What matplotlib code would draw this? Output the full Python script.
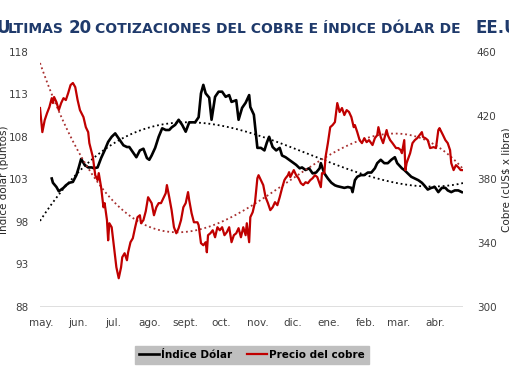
import numpy as np
import pandas as pd
import matplotlib
matplotlib.use("Agg")
import matplotlib.pyplot as plt

# Índice dólar (días desde 1-may-2022, puntos)
dolar_days = [9, 10, 13, 15, 19, 21, 24, 27, 30, 32, 34, 37, 40, 43, 45, 48, 51, 54, 57, 60,
              63, 67, 70, 73, 75, 78, 81, 84, 87, 90, 92, 94, 97, 100, 103, 106, 109, 111, 114, 117,
              120, 123, 126, 128, 131, 134, 136, 138, 140, 143, 145, 148, 151, 154, 157, 160, 162, 166, 168, 171,
              174, 177, 178, 181, 184, 187, 190, 192, 194, 197, 200, 203, 205, 208, 211, 214, 217, 220, 222, 225,
              228, 231, 234, 237, 238, 241, 244, 247, 250, 252, 255, 258, 261, 264, 265, 267, 269, 272, 275, 278,
              281, 284, 286, 289, 292, 295, 298, 301, 303, 307, 309, 312, 315, 318, 321, 324, 326, 329, 332, 335,
              338, 341, 344, 346, 349, 352, 355, 358]
dolar_vals = [103.1, 102.6, 102.1, 101.6, 102.0, 102.3, 102.6, 102.7, 103.5, 104.4, 105.4, 104.7, 104.4, 104.4, 104.3, 104.4, 105.5, 106.4, 107.4, 108.0,
              108.4, 107.6, 107.0, 106.8, 106.8, 106.2, 105.6, 106.4, 106.6, 105.5, 105.3, 105.8, 106.7, 108.0, 109.0, 108.8, 108.8, 109.1, 109.4, 110.0,
              109.4, 108.6, 109.7, 109.7, 109.7, 110.3, 113.1, 114.1, 113.1, 112.6, 110.0, 112.7, 113.3, 113.3, 112.7, 112.9, 112.1, 112.3, 110.0, 111.4,
              112.0, 112.9, 111.5, 110.6, 106.7, 106.7, 106.4, 107.3, 108.0, 106.8, 106.4, 106.7, 105.8, 105.6, 105.3, 105.0, 104.7, 104.3, 104.4, 104.1,
              104.3, 103.7, 103.8, 104.3, 104.9, 103.7, 103.1, 102.6, 102.3, 102.2, 102.1, 102.0, 102.1, 102.0, 101.5, 102.9, 103.3, 103.5, 103.5, 103.8,
              103.8, 104.3, 104.9, 105.3, 104.9, 104.9, 105.3, 105.6, 104.9, 104.3, 104.1, 103.7, 103.3, 103.1, 102.9, 102.6, 102.3, 101.8, 102.0, 102.1,
              101.5, 102.0, 102.0, 101.7, 101.5, 101.7, 101.7, 101.5]

# Precio del cobre (días desde 1-may-2022, cUS$ x libra)
cobre_days = [-1, 1, 3, 5, 7, 9, 10, 11, 13, 15, 17, 19, 21, 23, 25, 27, 29, 31, 33, 36,
              38, 40, 41, 44, 46, 48, 49, 51, 53, 54, 56, 57, 58, 60, 62, 64, 66, 68, 69, 71,
              73, 74, 76, 78, 80, 82, 84, 85, 87, 89, 91, 94, 96, 98, 100, 102, 104, 106, 107, 109,
              111, 113, 115, 117, 119, 121, 123, 125, 126, 128, 130, 133, 134, 136, 138, 140, 141, 142, 144, 146,
              148, 150, 152, 154, 156, 158, 160, 162, 164, 166, 168, 170, 172, 174, 175, 177, 178, 180, 182, 184,
              185, 187, 189, 191, 193, 195, 197, 199, 201, 203, 205, 207, 208, 210, 211, 212, 215, 217, 219, 221,
              223, 225, 227, 229, 231, 233, 235, 238, 239, 241, 242, 244, 246, 248, 250, 252, 254, 256, 258, 260,
              262, 264, 266, 267, 269, 271, 273, 275, 277, 279, 282, 284, 286, 287, 289, 291, 294, 295, 297, 299,
              302, 304, 306, 307, 309, 310, 311, 314, 316, 318, 320, 322, 324, 325, 327, 329, 331, 334, 336, 338,
              339, 342, 344, 346, 348, 349, 351, 353, 355, 357, 359]
cobre_vals = [424.7, 409.6, 417.1, 421.5, 425.3, 430.9, 427.8, 431.6, 428.4, 423.4, 427.8, 430.9, 429.7, 434.1, 439.1, 440.4, 437.8, 429.7, 423.4, 419.0,
              412.7, 409.6, 402.7, 393.9, 382.6, 379.5, 383.9, 375.1, 362.5, 365.1, 354.4, 341.8, 352.5, 350.0, 337.4, 324.9, 318.0, 324.9, 331.2, 333.7,
              329.3, 334.3, 340.6, 343.1, 350.0, 356.3, 357.5, 352.5, 354.4, 360.0, 368.8, 365.1, 357.5, 362.5, 365.1, 365.1, 368.2, 371.3, 376.4, 368.8,
              360.7, 350.0, 346.2, 349.4, 354.4, 362.5, 365.1, 372.0, 366.9, 358.8, 353.1, 353.1, 351.3, 340.0, 338.7, 340.6, 334.3, 345.0, 346.2, 348.1,
              343.7, 350.0, 348.1, 350.0, 345.0, 346.9, 350.0, 340.6, 345.0, 346.2, 349.4, 343.7, 350.0, 345.0, 352.5, 340.6, 356.3, 359.4, 365.7, 380.7,
              382.6, 379.5, 376.4, 368.8, 365.1, 360.7, 362.5, 365.7, 363.8, 368.8, 374.5, 379.5, 380.7, 382.6, 384.5, 381.4, 385.8, 382.6, 380.7, 377.6,
              376.4, 378.2, 377.6, 379.5, 380.7, 382.6, 381.4, 375.1, 383.9, 383.9, 393.9, 402.7, 412.7, 414.0, 415.9, 427.8, 422.2, 424.7, 420.3, 423.4,
              422.2, 419.0, 412.7, 414.0, 409.6, 404.6, 402.7, 405.8, 403.3, 404.6, 401.5, 405.8, 407.7, 412.7, 406.5, 402.7, 410.9, 407.7, 404.6, 402.7,
              399.6, 399.6, 398.3, 396.4, 404.6, 385.8, 390.2, 396.4, 402.7, 404.6, 405.8, 407.7, 409.6, 406.5, 405.8, 404.6, 399.6, 400.2, 399.6, 410.9,
              412.1, 407.7, 404.6, 402.7, 398.3, 390.2, 385.8, 388.9, 387.6, 385.8, 385.8]

month_labels = ["may.", "jun.", "jul.", "ago.", "sept.", "oct.", "nov.", "dic.",
                "ene.", "feb.", "mar.", "abr."]

start = pd.Timestamp("2022-05-01")
dolar_dates = start + pd.to_timedelta(dolar_days, unit="D")
cobre_dates = start + pd.to_timedelta(cobre_days, unit="D")
month_ticks = pd.date_range(start, periods=len(month_labels), freq="MS")

# tendencias polinómicas de orden 3 (como en Excel)
x_all = np.arange(cobre_days[0], cobre_days[-1] + 1)
trend_dates = start + pd.to_timedelta(x_all, unit="D")
dolar_trend = np.polyval(np.polyfit(dolar_days, dolar_vals, 3), x_all)
cobre_trend = np.polyval(np.polyfit(cobre_days, cobre_vals, 3), x_all)

RED = "#c00000"
GREY = "#404040"
NAVY = "#1f3a6b"

fig = plt.figure(figsize=(5.1, 3.82), dpi=100)
ax = fig.add_axes([40 / 510, 1 - 307 / 382, 423 / 510, 255.3 / 382])
ax2 = ax.twinx()

l1, = ax.plot(dolar_dates, dolar_vals, color="black", lw=1.9, label="Índice Dólar", zorder=3)
ax.plot(trend_dates, dolar_trend, color="black", lw=1.3, ls=(0, (1, 1.6)), zorder=2)
l2, = ax2.plot(cobre_dates, cobre_vals, color=RED, lw=1.6, label="Precio del cobre", zorder=3)
ax2.plot(trend_dates, cobre_trend, color="#a83030", lw=1.3, ls=(0, (1, 1.6)), zorder=2)

ax.set_ylim(88, 118)
ax.set_yticks([88, 93, 98, 103, 108, 113, 118])
ax2.set_ylim(300, 460)
ax2.set_yticks([300, 340, 380, 420, 460])
ax.set_xlim(cobre_dates[0], cobre_dates[-1])
ax.set_xticks(month_ticks)
ax.set_xticklabels(month_labels)

for a in (ax, ax2):
    for s in a.spines.values():
        s.set_visible(False)
    a.tick_params(length=0, labelsize=7.5, labelcolor=GREY)
ax.tick_params(axis="y", pad=8)
ax2.tick_params(axis="y", pad=10)
ax.tick_params(axis="x", pad=8)
ax.axhline(88, color="#d9d9d9", lw=1.2, zorder=1)

fig.text(0.005, 1 - 180 / 382, "Índice dólar (puntos)", rotation=90, ha="center", va="center",
         fontsize=7.5, color="#262626")
fig.text(0.993, 1 - 180 / 382, "Cobre (cUS$ x libra)", rotation=90, ha="center", va="center",
         fontsize=7.5, color="#262626")

# título en versalitas, armado por partes (cortado en los bordes como el original)
title_parts = ["U", "LTIMAS", "20", "COTIZACIONES DEL COBRE E ÍNDICE DÓLAR DE", "EE.UU."]
title_big = [True, False, True, False, True]
title_x = [-4, 8, 69, 95, 476]
for txt, big, xpx in zip(title_parts, title_big, title_x):
    fig.text(xpx / 510, 1 - 33 / 382, txt, fontsize=12 if big else 10.0, fontweight="bold",
             color=NAVY, ha="left", va="baseline")

leg = fig.legend(handles=[l1, l2], loc="center", bbox_to_anchor=(252 / 510, 1 - 355 / 382), ncol=2,
                 frameon=True, fancybox=False, facecolor="#bfbfbf", edgecolor="#bfbfbf",
                 prop={"size": 7.5, "weight": "bold"}, handlelength=1.9, handletextpad=0.2,
                 columnspacing=1.4, borderpad=0.4)
leg.get_frame().set_alpha(1)

fig.savefig("out.png", dpi=100)
